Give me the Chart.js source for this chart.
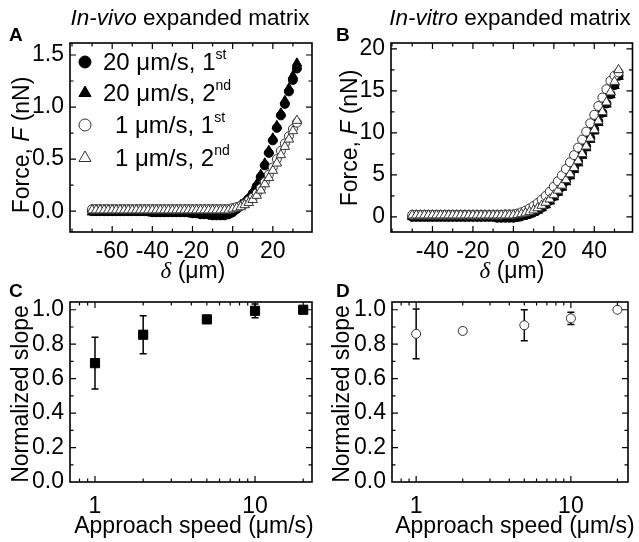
<!DOCTYPE html>
<html>
<head>
<meta charset="utf-8">
<script src="https://cdn.jsdelivr.net/npm/chart.js@4.4.1/dist/chart.umd.min.js"></script>
<style>
  body { margin: 0; background: #fff; }
  #wrap { position: relative; width: 639px; height: 542px; }
  #wrap canvas { position: absolute; left: 0; top: 0; }
</style>
</head>
<body>
<div id="wrap">
  <canvas id="panelA" width="639" height="542"></canvas>
  <canvas id="panelB" width="639" height="542"></canvas>
  <canvas id="panelC" width="639" height="542"></canvas>
  <canvas id="panelD" width="639" height="542"></canvas>
</div>
<script>
// ---- data: panel A (in-vivo), indentation in um, force in nN
var xA = [-70,-68,-66,-64,-62,-60,-58,-56,-54,-52,-50,-48,-46,-44,-42,-40,-38,-36,-34,-32,-30,-28,-26,-24,-22,-20,-18,-16,-14,-12,-10,-8,-6,-4,-2,0,2,4,6,8,10,12,14,16,18,20,22,24,26,28,30,32];
var fastFirstA = [0,0,0,0,0,0,0,0,0,0,0,0,0,0,0,-0.01,-0.01,-0.01,-0.01,-0.01,-0.01,-0.01,-0.01,-0.01,-0.01,-0.02,-0.02,-0.03,-0.03,-0.03,-0.04,-0.04,-0.04,-0.04,-0.03,-0.01,0.02,0.05,0.08,0.12,0.17,0.24,0.33,0.44,0.56,0.68,0.80,0.92,1.03,1.15,1.26,1.37];
var fastSecondA = [-0.01,-0.01,-0.01,-0.01,-0.01,-0.01,-0.01,-0.01,-0.01,-0.01,-0.01,-0.01,-0.01,-0.01,-0.01,-0.02,-0.02,-0.02,-0.02,-0.02,-0.02,-0.02,-0.02,-0.02,-0.02,-0.03,-0.03,-0.03,-0.04,-0.04,-0.05,-0.05,-0.05,-0.04,-0.03,0.00,0.03,0.06,0.09,0.13,0.19,0.26,0.35,0.46,0.58,0.70,0.82,0.94,1.06,1.18,1.30,1.42];
var slowFirstA = [0.02,0.02,0.02,0.02,0.02,0.02,0.02,0.02,0.02,0.02,0.02,0.02,0.02,0.02,0.02,0.02,0.02,0.02,0.02,0.02,0.02,0.02,0.02,0.02,0.02,0.02,0.02,0.02,0.02,0.02,0.02,0.02,0.02,0.02,0.02,0.03,0.04,0.05,0.07,0.10,0.13,0.17,0.22,0.28,0.35,0.42,0.50,0.58,0.65,0.72,0.79,0.85];
var slowSecondA = [0.01,0.01,0.01,0.01,0.01,0.01,0.01,0.01,0.01,0.01,0.01,0.01,0.01,0.01,0.01,0.01,0.01,0.01,0.01,0.01,0.01,0.01,0.01,0.01,0.01,0.01,0.01,0.01,0.01,0.01,0.01,0.01,0.01,0.01,0.01,0.02,0.03,0.04,0.06,0.08,0.11,0.15,0.20,0.26,0.32,0.39,0.46,0.54,0.62,0.69,0.77,0.87];

// ---- data: panel B (in-vitro)
var xB = [-50,-48,-46,-44,-42,-40,-38,-36,-34,-32,-30,-28,-26,-24,-22,-20,-18,-16,-14,-12,-10,-8,-6,-4,-2,0,2,4,6,8,10,12,14,16,18,20,22,24,26,28,30,32,34,36,38,40,42,44,46,48,50,52];
var fastFirstB = [0,0,0,0,0,0,0,0,0,0,0,0,0,0,0,0,0,0,0,0,0,-0.1,-0.1,-0.1,-0.1,-0.1,0.0,0.1,0.2,0.35,0.55,0.8,1.1,1.5,1.95,2.45,3.0,3.6,4.3,5.0,5.8,6.6,7.5,8.4,9.4,10.4,11.4,12.4,13.5,14.6,15.7,16.8];
var fastSecondB = [0,0,0,0,0,0,0,0,0,0,0,0,0,0,0,0,0,0,0,0,0,0,-0.15,-0.15,-0.15,-0.15,-0.15,0.05,0.15,0.3,0.5,0.75,1.05,1.4,1.85,2.35,2.9,3.5,4.15,4.85,5.6,6.4,7.3,8.2,9.2,10.2,11.2,12.3,13.4,14.5,15.6,16.7];
var slowFirstB = [0.25,0.25,0.25,0.25,0.25,0.25,0.25,0.25,0.25,0.25,0.25,0.25,0.25,0.25,0.25,0.25,0.25,0.25,0.25,0.25,0.25,0.25,0.25,0.3,0.3,0.3,0.4,0.55,0.75,1.0,1.3,1.65,2.05,2.5,3.0,3.6,4.25,4.95,5.7,6.5,7.35,8.25,9.2,10.15,11.15,12.15,13.2,14.2,15.2,16.2,16.8,17.2];
var slowSecondB = [0.2,0.2,0.2,0.2,0.2,0.2,0.2,0.2,0.2,0.2,0.2,0.2,0.2,0.2,0.2,0.2,0.2,0.2,0.2,0.2,0.2,0.2,0.2,0.2,0.2,0.2,0.25,0.35,0.45,0.6,0.8,1.05,1.35,1.7,2.1,2.6,3.15,3.75,4.4,5.1,5.85,6.65,7.5,8.4,9.35,10.35,11.4,12.5,13.65,14.85,16.1,17.5];

// ---- data: panels C and D (normalized slope vs approach speed)
var speeds = [1, 2, 5, 10, 20];
var slopeVivo = [0.69, 0.855, 0.944, 0.994, 1.0];
var slopeVivoErr = [0.15, 0.11, 0.023, 0.04, 0];
var slopeVitro = [0.86, 0.877, 0.91, 0.95, 1.0];
var slopeVitroErr = [0.145, 0.015, 0.09, 0.035, 0];

// ---- axis tick positions (labelled majors, unlabelled minors)
var tickAxMajor = [-60, -40, -20, 0, 20];
var tickAxMinor = [-80, -70, -50, -30, -10, 10, 30];
var tickAyMajor = [0, 0.5, 1.0, 1.5];
var tickAyMinor = [-0.25, 0.25, 0.75, 1.25];
var tickBxMajor = [-40, -20, 0, 20, 40];
var tickBxMinor = [-60, -50, -30, -10, 10, 30, 50];
var tickByMajor = [0, 5, 10, 15, 20];
var tickByMinor = [-2.5, 2.5, 7.5, 12.5, 17.5];
var tickLogMajor = [1, 10];
var tickLogMinor = [0.8, 0.9, 2, 3, 4, 5, 6, 7, 8, 9, 20];
var tickSlopeMajor = [0, 0.2, 0.4, 0.6, 0.8, 1.0];
var tickSlopeMinor = [0.1, 0.3, 0.5, 0.7, 0.9];

var W = 639, H = 542;
var FONT = '"Liberation Sans", Arial, sans-serif';
Chart.defaults.font.family = FONT;
Chart.defaults.color = '#000';

function pts(xs, ys) { return xs.map(function (x, i) { return { x: x, y: ys[i] }; }); }

function styleFor(kind, r) {
  var filled = kind.indexOf('filled') === 0;
  return {
    pointStyle: kind.indexOf('tri') > 0 ? 'triangle' : (kind.indexOf('sq') > 0 ? 'rect' : 'circle'),
    pointRadius: r, pointHoverRadius: r,
    pointBackgroundColor: filled ? '#000' : '#fff',
    pointBorderColor: filled ? '#000' : '#333',
    pointBorderWidth: 1, showLine: false
  };
}

function drawRich(ctx, it) {
  var size = it.size || 23;
  function font(k) {
    if (k === 's') return Math.round(size * 0.6) + 'px ' + FONT;
    if (k === 'i') return 'italic ' + size + 'px ' + FONT;
    if (k === 'b') return 'bold ' + size + 'px ' + FONT;
    if (k === 'g') return 'italic ' + size + 'px "Liberation Serif", serif';
    return size + 'px ' + FONT;
  }
  var w = 0;
  it.parts.forEach(function (p) { ctx.font = font(p[1]); w += ctx.measureText(p[0]).width; });
  ctx.save();
  ctx.translate(it.x, it.y);
  if (it.rot) ctx.rotate(it.rot);
  var x = it.align === 'center' ? -w / 2 : 0;
  ctx.fillStyle = '#000';
  ctx.textAlign = 'left';
  ctx.textBaseline = 'alphabetic';
  it.parts.forEach(function (p) {
    ctx.font = font(p[1]);
    ctx.fillText(p[0], x, p[1] === 's' ? -size * 0.45 : 0);
    x += ctx.measureText(p[0]).width;
  });
  ctx.restore();
}

// box frame with inward ticks on all four sides
var framePlugin = {
  id: 'frame',
  afterDatasetsDraw: function (chart, args, o) {
    var ctx = chart.ctx, a = chart.chartArea, xs = chart.scales.x, ys = chart.scales.y;
    ctx.save();
    ctx.strokeStyle = '#000';
    ctx.lineWidth = 1.2;
    ctx.beginPath();
    function xt(list, len) {
      list.forEach(function (v) {
        var p = xs.getPixelForValue(v);
        if (p < a.left + 1 || p > a.right - 1) return;
        ctx.moveTo(p, a.bottom); ctx.lineTo(p, a.bottom - len);
        ctx.moveTo(p, a.top); ctx.lineTo(p, a.top + len);
      });
    }
    function yt(list, len) {
      list.forEach(function (v) {
        var p = ys.getPixelForValue(v);
        if (p < a.top + 1 || p > a.bottom - 1) return;
        ctx.moveTo(a.left, p); ctx.lineTo(a.left + len, p);
        ctx.moveTo(a.right, p); ctx.lineTo(a.right - len, p);
      });
    }
    xt(o.xMajor, 6); xt(o.xMinor, 3.5); yt(o.yMajor, 6); yt(o.yMinor, 3.5);
    ctx.stroke();
    ctx.lineWidth = 1.6;
    ctx.strokeRect(a.left, a.top, a.right - a.left, a.bottom - a.top);
    ctx.restore();
  }
};

// vertical error bars from dataset.errors
var errorPlugin = {
  id: 'errbars',
  beforeDatasetsDraw: function (chart) {
    var ctx = chart.ctx, ys = chart.scales.y;
    chart.data.datasets.forEach(function (ds, i) {
      if (!ds.errors) return;
      var meta = chart.getDatasetMeta(i);
      ctx.save();
      ctx.strokeStyle = '#000';
      ctx.lineWidth = 1.5;
      ctx.beginPath();
      meta.data.forEach(function (el, j) {
        var e = ds.errors[j];
        if (!e) return;
        var v = ds.data[j].y;
        var top = ys.getPixelForValue(v + e), bot = ys.getPixelForValue(v - e);
        ctx.moveTo(el.x, top); ctx.lineTo(el.x, bot);
        ctx.moveTo(el.x - 3.5, top); ctx.lineTo(el.x + 3.5, top);
        ctx.moveTo(el.x - 3.5, bot); ctx.lineTo(el.x + 3.5, bot);
      });
      ctx.stroke();
      ctx.restore();
    });
  }
};

// titles, panel letters, axis titles, legend
var textPlugin = {
  id: 'texts',
  afterDraw: function (chart, args, o) {
    var ctx = chart.ctx;
    (o.legend || []).forEach(function (it) {
      ctx.save();
      ctx.fillStyle = it.filled ? '#000' : '#fff';
      ctx.strokeStyle = it.filled ? '#000' : '#333';
      ctx.lineWidth = 1;
      Chart.helpers.drawPoint(ctx, { pointStyle: it.style, radius: it.r, rotation: 0, borderWidth: 1 }, it.mx, it.y - 8);
      ctx.restore();
      drawRich(ctx, { x: it.tx, y: it.y, parts: it.parts, size: 24 });
    });
    (o.items || []).forEach(function (it) { drawRich(ctx, it); });
  }
};

var X_AXIS_H = 60;

function makePanel(id, area, xCfg, yCfg, datasets, frame, texts) {
  var xScale = Object.assign({
    grid: { display: false, drawTicks: false }, border: { display: false },
    afterFit: function (s) { s.height = X_AXIS_H; }
  }, xCfg);
  xScale.ticks = Object.assign({ autoSkip: false, maxRotation: 0, includeBounds: false, padding: 6, font: { size: 23 } }, xCfg.ticks);
  var yScale = Object.assign({
    grid: { display: false, drawTicks: false }, border: { display: false },
    afterFit: function (s) { s.width = area.l; }
  }, yCfg);
  yScale.ticks = Object.assign({ autoSkip: false, includeBounds: false, padding: 6, font: { size: 23 } }, yCfg.ticks);
  return new Chart(document.getElementById(id), {
    type: 'scatter',
    data: { datasets: datasets },
    options: {
      responsive: false, animation: false, devicePixelRatio: 1,
      layout: { padding: { left: 0, top: area.t, right: W - area.r, bottom: Math.max(0, H - area.b - X_AXIS_H) } },
      scales: { x: xScale, y: yScale },
      plugins: { legend: { display: false }, tooltip: { enabled: false }, frame: frame, texts: texts }
    },
    plugins: [errorPlugin, framePlugin, textPlugin]
  });
}

// label only the values listed as majors
function labelIn(list, dec) {
  return function (v) {
    for (var i = 0; i < list.length; i++) {
      if (Math.abs(list[i] - v) < 1e-6) return dec ? list[i].toFixed(dec) : String(list[i]);
    }
    return '';
  };
}

// panel A
makePanel('panelA', { l: 70, t: 43, r: 312, b: 232 },
  { type: 'linear', min: -81, max: 39.5, ticks: { stepSize: 10, callback: labelIn(tickAxMajor, 0) } },
  { type: 'linear', min: -0.2, max: 1.615, ticks: { stepSize: 0.5, callback: labelIn(tickAyMajor, 1) } },
  [
    Object.assign({ data: pts(xA, slowSecondA), order: 0 }, styleFor('open-tri', 5.5)),
    Object.assign({ data: pts(xA, slowFirstA), order: 1 }, styleFor('open-circ', 4.5)),
    Object.assign({ data: pts(xA, fastSecondA), order: 2 }, styleFor('filled-tri', 5.5)),
    Object.assign({ data: pts(xA, fastFirstA), order: 3 }, styleFor('filled-circ', 4.5))
  ],
  { xMajor: tickAxMajor, xMinor: tickAxMinor, yMajor: tickAyMajor, yMinor: tickAyMinor },
  {
    legend: [
      { style: 'circle', r: 6, filled: true, mx: 85, y: 70, tx: 103, parts: [['20 μm/s, 1'], ['st', 's']] },
      { style: 'triangle', r: 7, filled: true, mx: 85, y: 101, tx: 103, parts: [['20 μm/s, 2'], ['nd', 's']] },
      { style: 'circle', r: 6, filled: false, mx: 85, y: 133, tx: 115, parts: [['1 μm/s, 1'], ['st', 's']] },
      { style: 'triangle', r: 7, filled: false, mx: 85, y: 166, tx: 115, parts: [['1 μm/s, 2'], ['nd', 's']] }
    ],
    items: [
      { x: 190, y: 25, size: 22.5, align: 'center', parts: [['In-vivo', 'i'], [' expanded matrix']] },
      { x: 9, y: 41, size: 19, parts: [['A', 'b']] },
      { x: 29, y: 145, rot: -Math.PI / 2, align: 'center', parts: [['Force, '], ['F', 'i'], [' (nN)']] },
      { x: 193, y: 278, align: 'center', parts: [['δ', 'g'], [' (μm)']] }
    ]
  });

// panel B
makePanel('panelB', { l: 391, t: 43, r: 637, b: 232 },
  { type: 'linear', min: -60.5, max: 58.9, ticks: { stepSize: 10, callback: labelIn(tickBxMajor, 0) } },
  { type: 'linear', min: -1.8, max: 20.7, ticks: { stepSize: 5, callback: labelIn(tickByMajor, 0) } },
  [
    Object.assign({ data: pts(xB, slowSecondB), order: 0 }, styleFor('open-tri', 5.5)),
    Object.assign({ data: pts(xB, slowFirstB), order: 1 }, styleFor('open-circ', 4.5)),
    Object.assign({ data: pts(xB, fastSecondB), order: 2 }, styleFor('filled-tri', 5.5)),
    Object.assign({ data: pts(xB, fastFirstB), order: 3 }, styleFor('filled-circ', 4.5))
  ],
  { xMajor: tickBxMajor, xMinor: tickBxMinor, yMajor: tickByMajor, yMinor: tickByMinor },
  {
    items: [
      { x: 510, y: 25, size: 22.5, align: 'center', parts: [['In-vitro', 'i'], [' expanded matrix']] },
      { x: 336, y: 41, size: 19, parts: [['B', 'b']] },
      { x: 357, y: 138, rot: -Math.PI / 2, align: 'center', parts: [['Force, '], ['F', 'i'], [' (nN)']] },
      { x: 512, y: 278, align: 'center', parts: [['δ', 'g'], [' (μm)']] }
    ]
  });

// panel C
makePanel('panelC', { l: 70, t: 302, r: 312, b: 489 },
  { type: 'logarithmic', min: 0.698, max: 22.7, ticks: { padding: 11, callback: labelIn(tickLogMajor, 0) } },
  { type: 'linear', min: 0, max: 1.045, ticks: { stepSize: 0.2, callback: labelIn(tickSlopeMajor, 1) } },
  [
    Object.assign({ data: pts(speeds, slopeVivo), errors: slopeVivoErr }, styleFor('filled-sq', 6.5))
  ],
  { xMajor: tickLogMajor, xMinor: tickLogMinor, yMajor: tickSlopeMajor, yMinor: tickSlopeMinor },
  {
    items: [
      { x: 9, y: 297, size: 19, parts: [['C', 'b']] },
      { x: 28, y: 394, rot: -Math.PI / 2, align: 'center', parts: [['Normalized slope']] },
      { x: 194, y: 533, align: 'center', parts: [['Approach speed (μm/s)']] }
    ]
  });

// panel D
makePanel('panelD', { l: 392, t: 302, r: 636, b: 489 },
  { type: 'logarithmic', min: 0.698, max: 23.4, ticks: { padding: 11, callback: labelIn(tickLogMajor, 0) } },
  { type: 'linear', min: 0, max: 1.045, ticks: { stepSize: 0.2, callback: labelIn(tickSlopeMajor, 1) } },
  [
    Object.assign({ data: pts(speeds, slopeVitro), errors: slopeVitroErr }, styleFor('open-circ', 4.5))
  ],
  { xMajor: tickLogMajor, xMinor: tickLogMinor, yMajor: tickSlopeMajor, yMinor: tickSlopeMinor },
  {
    items: [
      { x: 336, y: 297, size: 19, parts: [['D', 'b']] },
      { x: 349, y: 394, rot: -Math.PI / 2, align: 'center', parts: [['Normalized slope']] },
      { x: 515, y: 533, align: 'center', parts: [['Approach speed (μm/s)']] }
    ]
  });
</script>
</body>
</html>
